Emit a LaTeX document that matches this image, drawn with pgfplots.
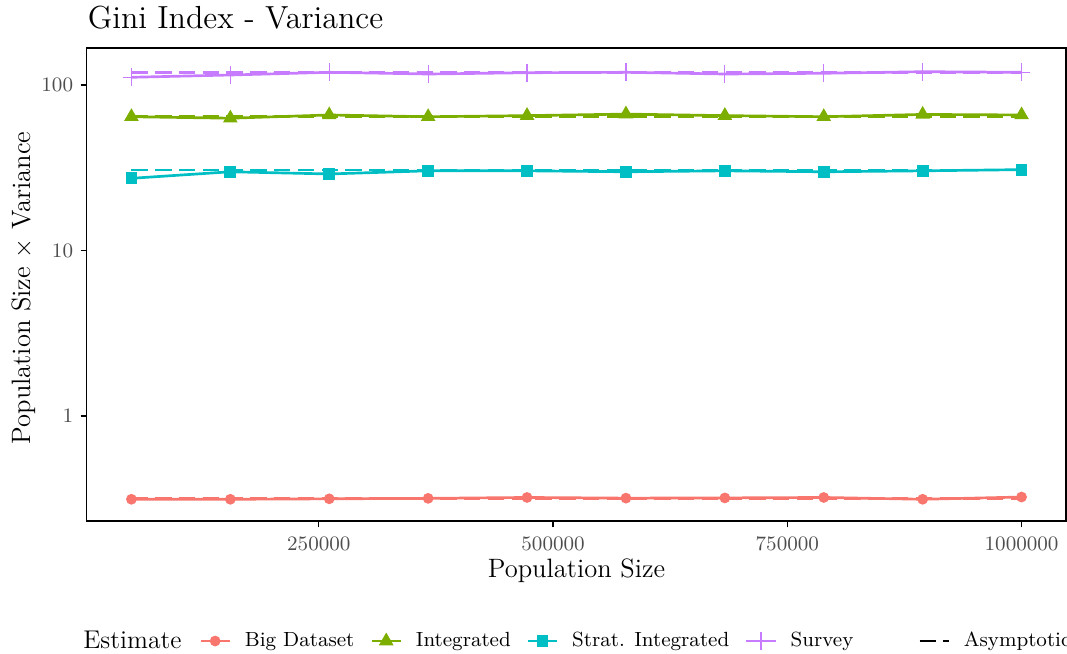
\documentclass[border=0pt]{standalone}
\usepackage{pgfplots}
\pgfplotsset{compat=1.18}
\definecolor{cBig}{HTML}{F8766D}
\definecolor{cInt}{HTML}{7CAE00}
\definecolor{cStr}{HTML}{00BFC4}
\definecolor{cSur}{HTML}{C77CFF}
\definecolor{tickgray}{HTML}{4D4D4D}
\begin{document}
\begin{tikzpicture}
\useasboundingbox (-37.3pt,-56.65pt) rectangle (420.6pt,223.6pt);
\begin{axis}[
    at={(0pt,0pt)}, anchor=south west,
    scale only axis, width=420.2pt, height=203pt,
    xmin=2500, xmax=1047500,
    ymode=log, ymin=0.232, ymax=167.3,
    scaled x ticks=false,
    xtick={250000,500000,750000,1000000},
    xticklabels={250000,500000,750000,1000000},
    ytick={1,10,100}, yticklabels={1,10,100},
    yminorticks=false,
    tick align=outside, xtick pos=left, ytick pos=left,
    major tick length=2.75pt,
    every tick/.style={black, line width=0.5pt},
    axis line style={black, line width=0.5pt},
    ticklabel style={font=\fontsize{8.8}{10}\selectfont, text=tickgray, inner sep=0pt},
    xticklabel style={anchor=base},
    xticklabel shift=9.9pt,
    yticklabel style={anchor=east},
    yticklabel shift=3pt,
    legend columns=-1,
    legend style={at={(0,0)}, anchor=west, xshift=48pt, yshift=-51.5pt,
        draw=none, fill=none, inner sep=0pt,
        font=\fontsize{8.8}{10}\selectfont,
        /tikz/every odd column/.append style={column sep=3.9pt},
        /tikz/every even column/.append style={column sep=4.8pt}},
    legend image code/.code={\draw[mark repeat=2, mark phase=2]
        plot coordinates {(0cm,0cm) (0.22cm,0cm) (0.44cm,0cm)};},
]
% asymptotic values (dashed)
\addplot[cBig, line width=1.15pt, dash pattern=on 7pt off 3.2pt, forget plot] coordinates {(50000,0.318) (1000000,0.318)};
\addplot[cInt, line width=1.15pt, dash pattern=on 7pt off 3.2pt, forget plot] coordinates {(50000,64.5) (1000000,64.5)};
\addplot[cStr, line width=1.15pt, dash pattern=on 7pt off 3.2pt, forget plot] coordinates {(50000,30.6) (1000000,30.6)};
\addplot[cSur, line width=1.15pt, dash pattern=on 7pt off 3.2pt, forget plot] coordinates {(50000,119.0) (1000000,119.0)};
% simulated estimates
\addplot[cBig, line width=1.15pt, mark=*, mark size=1.7pt, mark options={solid}] coordinates {
    (50000,0.314) (155556,0.314) (261111,0.316) (366667,0.318) (472222,0.322)
    (577778,0.319) (683333,0.320) (788889,0.322) (894444,0.314) (1000000,0.324)};
\addlegendentry{Big Dataset}
\addplot[cInt, line width=1.15pt, mark=triangle*, mark size=2.5pt, mark options={solid}] coordinates {
    (50000,64.3) (155556,63.0) (261111,65.9) (366667,64.3) (472222,65.3)
    (577778,66.7) (683333,65.3) (788889,64.3) (894444,66.4) (1000000,65.9)};
\addlegendentry{Integrated}
\addplot[cStr, line width=1.15pt, mark=square*, mark size=1.95pt, mark options={solid}] coordinates {
    (50000,27.3) (155556,29.9) (261111,29.0) (366667,30.3) (472222,30.3)
    (577778,29.9) (683333,30.3) (788889,29.9) (894444,30.3) (1000000,30.8)};
\addlegendentry{Strat. Integrated}
\addplot[cSur, line width=1.15pt, mark=+, mark size=3.8pt, mark options={solid, line width=0.5pt}] coordinates {
    (50000,111.3) (155556,114.9) (261111,119.3) (366667,116.5) (472222,118.6)
    (577778,119.3) (683333,116.5) (788889,117.7) (894444,120.3) (1000000,119.3)};
\addlegendentry{Survey\hspace*{21pt}}
\addlegendimage{black, line width=1.15pt, dash pattern=on 7pt off 3.2pt}
\addlegendentry{Asymptotic}
\end{axis}
\node[anchor=base west, inner sep=0pt, font=\fontsize{13.7}{16}\selectfont] at (0.2pt,211.2pt) {Gini Index - Variance};
\node[anchor=base, inner sep=0pt, font=\fontsize{11.4}{13}\selectfont] at (210.1pt,-24.3pt) {Population Size};
\node[anchor=base, rotate=90, inner sep=0pt, font=\fontsize{11.4}{13}\selectfont] at (-24.2pt,100pt) {Population Size $\times$ Variance};
\node[anchor=base west, inner sep=0pt, font=\fontsize{11}{13}\selectfont] at (-1.7pt,-54.5pt) {Estimate};
\end{tikzpicture}
\end{document}
